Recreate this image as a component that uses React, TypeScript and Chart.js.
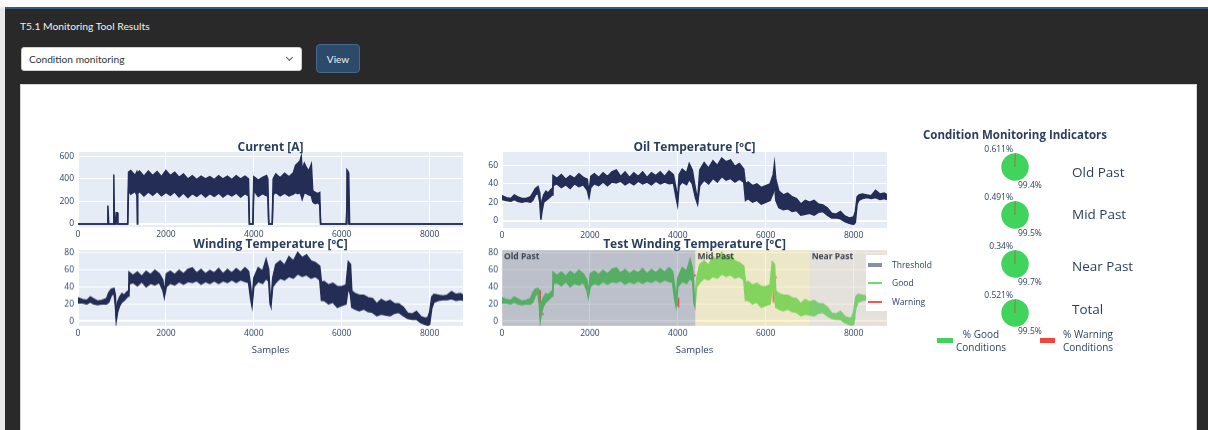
import React, { useEffect, useRef } from "react";
import { Chart, registerables } from "chart.js";
Chart.register(...registerables);

// ---------- data ----------
const sampleMax = 8760;
const xTickValues = [0, 2000, 4000, 6000, 8000];

const currentTicks = [0, 200, 400, 600];
const currentX = [0, 660, 680, 700, 800, 815, 830, 850, 870, 895, 910, 1130, 1150, 1200, 1300, 1340, 1350, 1360, 1400, 1500, 1600, 1700, 1800, 1900, 2000, 2100, 2200, 2300, 2400, 2500, 2600, 2700, 2800, 2900, 3000, 3100, 3200, 3300, 3400, 3500, 3600, 3700, 3800, 3880, 3900, 3980, 4000, 4100, 4200, 4290, 4320, 4340, 4420, 4440, 4500, 4600, 4700, 4800, 4900, 4950, 5000, 5050, 5080, 5100, 5150, 5200, 5250, 5310, 5340, 5360, 5400, 5450, 5500, 5520, 6100, 6120, 6140, 6160, 6180, 8760];
const currentHi = [0, 0, 165, 0, 0, 440, 0, 0, 100, 100, 0, 0, 460, 475, 430, 465, 450, 455, 470, 425, 470, 430, 465, 420, 475, 430, 460, 415, 445, 400, 430, 395, 425, 400, 420, 395, 430, 400, 425, 395, 430, 400, 425, 400, 0, 0, 420, 390, 415, 430, 400, 0, 0, 400, 445, 410, 450, 420, 455, 520, 540, 560, 600, 480, 540, 500, 470, 530, 300, 290, 280, 270, 280, 0, 0, 480, 470, 450, 0, 0];
const currentLo = [0, 0, 0, 0, 0, 0, 0, 0, 0, 0, 0, 0, 300, 265, 290, 255, 0, 270, 290, 250, 285, 255, 290, 250, 280, 255, 285, 240, 275, 235, 270, 245, 275, 240, 270, 245, 275, 240, 270, 250, 275, 240, 270, 250, 0, 0, 300, 245, 270, 250, 250, 0, 0, 260, 280, 250, 275, 250, 265, 280, 270, 280, 250, 220, 280, 270, 260, 250, 200, 190, 180, 190, 170, 0, 0, 0, 300, 0, 0, 0];

const oilTicks = [0, 20, 40, 60];
const oilX = [0, 100, 200, 280, 350, 450, 550, 650, 700, 760, 820, 860, 885, 910, 950, 1000, 1050, 1100, 1140, 1160, 1250, 1350, 1450, 1550, 1650, 1750, 1850, 1940, 1980, 2020, 2100, 2200, 2300, 2400, 2500, 2600, 2700, 2800, 2900, 3000, 3100, 3200, 3300, 3400, 3500, 3600, 3700, 3800, 3900, 3960, 3995, 4030, 4100, 4200, 4260, 4330, 4400, 4450, 4500, 4600, 4700, 4800, 4900, 5000, 5100, 5200, 5300, 5400, 5500, 5540, 5600, 5700, 5800, 5900, 6000, 6100, 6170, 6200, 6230, 6300, 6400, 6500, 6600, 6700, 6800, 6900, 7000, 7100, 7200, 7300, 7400, 7500, 7600, 7700, 7800, 7900, 8000, 8040, 8080, 8120, 8200, 8300, 8400, 8500, 8600, 8700, 8760];
const oilHi = [27, 25, 24, 28, 26, 24, 24, 26, 30, 35, 37, 30, 8, 22, 28, 32, 30, 33, 35, 49, 46, 50, 45, 49, 46, 51, 47, 45, 30, 48, 51, 47, 52, 48, 53, 55, 48, 53, 47, 52, 48, 53, 47, 52, 49, 53, 48, 54, 50, 35, 22, 50, 56, 52, 62, 55, 35, 22, 55, 63, 57, 65, 60, 68, 64, 66, 59, 62, 56, 40, 42, 38, 40, 36, 38, 40, 50, 62, 45, 32, 28, 30, 26, 24, 18, 22, 20, 22, 18, 17, 14, 8, 7, 10, 5, 3, 4, 10, 26, 28, 29, 28, 27, 33, 29, 30, 28];
const oilLo = [23, 22, 21, 23, 21, 20, 21, 20, 22, 28, 30, 20, 1, 10, 20, 22, 24, 26, 28, 38, 40, 36, 39, 35, 40, 37, 39, 33, 25, 36, 40, 38, 42, 38, 42, 41, 43, 39, 42, 39, 43, 40, 42, 39, 43, 40, 42, 40, 41, 25, 17, 38, 42, 39, 45, 40, 25, 18, 38, 44, 40, 46, 42, 48, 44, 46, 42, 45, 42, 22, 24, 20, 22, 18, 20, 22, 30, 40, 22, 14, 12, 13, 10, 11, 6, 7, 8, 6, 9, 10, 6, 3, 3, 2, -1, -3, -4, -2, 18, 22, 24, 25, 24, 25, 23, 24, 23];

const windTicks = [0, 20, 40, 60, 80];
const windX = [0, 100, 200, 280, 350, 450, 550, 650, 700, 760, 820, 850, 870, 900, 950, 1000, 1050, 1100, 1140, 1160, 1250, 1350, 1450, 1550, 1650, 1750, 1850, 1930, 1965, 2010, 2100, 2200, 2300, 2400, 2500, 2600, 2700, 2800, 2900, 3000, 3100, 3200, 3300, 3400, 3500, 3600, 3700, 3800, 3880, 3930, 3960, 4000, 4100, 4200, 4280, 4340, 4370, 4390, 4430, 4500, 4600, 4700, 4800, 4900, 5000, 5100, 5200, 5300, 5400, 5500, 5540, 5600, 5700, 5800, 5900, 6000, 6100, 6150, 6200, 6230, 6300, 6400, 6500, 6600, 6700, 6800, 6900, 7000, 7100, 7200, 7300, 7400, 7500, 7600, 7700, 7800, 7900, 7960, 8000, 8050, 8100, 8200, 8300, 8400, 8500, 8600, 8700, 8760];
const windHi = [27, 25, 24, 28, 26, 23, 24, 26, 33, 37, 38, 30, 3, 22, 28, 32, 30, 33, 35, 57, 53, 57, 52, 58, 54, 59, 55, 48, 31, 55, 58, 54, 59, 55, 60, 62, 56, 60, 55, 59, 56, 61, 55, 60, 56, 61, 57, 62, 58, 40, 22, 50, 62, 58, 72, 60, 30, 20, 50, 66, 70, 65, 75, 70, 80, 74, 77, 70, 68, 64, 45, 46, 42, 44, 40, 40, 42, 69, 66, 35, 32, 30, 30, 27, 26, 20, 25, 22, 24, 20, 20, 16, 9, 8, 11, 5, 3, 4, 10, 28, 31, 30, 29, 30, 34, 31, 32, 30];
const windLo = [21, 21, 20, 22, 20, 19, 20, 20, 22, 30, 32, 18, 0, 10, 18, 22, 24, 27, 29, 43, 45, 41, 46, 40, 44, 42, 45, 36, 28, 40, 44, 42, 46, 43, 46, 45, 47, 43, 46, 44, 47, 44, 47, 45, 48, 45, 48, 46, 45, 25, 17, 40, 46, 44, 50, 46, 20, 17, 40, 45, 50, 48, 52, 50, 55, 52, 54, 50, 52, 48, 24, 24, 20, 22, 16, 18, 20, 40, 30, 16, 14, 12, 14, 11, 10, 6, 8, 7, 6, 9, 10, 6, 3, 2, 2, -2, -4, -5, -4, 15, 22, 24, 25, 25, 26, 24, 25, 24];

// warning segments on the test winding series
const warnX0 = [700, 862, 912, 1385, 2585, 4005, 4385, 5370, 6172, 6220, 7835, 8025];
const warnX1 = [725, 868, 925, 1405, 2605, 4012, 4395, 5385, 6176, 6240, 7850, 8040];
const warnY0 = [25, 20, 8, 46, 61, 17, 52, 65, 22, 50, 4, 3];
const warnY1 = [28, 36, 9, 47, 60, 27, 54, 66, 53, 52, 3, 3];

const regionNames = ["Old Past", "Mid Past", "Near Past"];
const regionStart = [0, 4400, 7000];
const regionEnd = [4400, 7000, sampleMax];

const pieNames = ["Old Past", "Mid Past", "Near Past", "Total"];
const pieWarning = [0.611, 0.491, 0.34, 0.521];
const pieGood = [99.389, 99.509, 99.66, 99.479];

// ---------- styles ----------
const FONT = '"Open Sans", verdana, arial, sans-serif';
const TXT = "#2a3f5f";
const NAVY = "#232d55";
const GREEN_LINE = "#3fcf4f";
const RED = "#f5453a";
const PIE_GREEN = "#40d45c";
const PLOT_BG = "#E5ECF6";
const regionColors = ["rgba(120,122,135,0.38)", "rgba(249,222,123,0.36)", "rgba(226,202,172,0.36)"];
const AXW = 34, PADT = 14, PADR = 10, AXH = 18;
const tickFont = { family: FONT, size: 8.5 };

function band(xs: number[], hi: number[], lo: number[], color: string) {
  return [
    { data: xs.map((x, i) => ({ x, y: hi[i] })), borderColor: color, borderWidth: 1.5, pointRadius: 0, fill: false },
    { data: xs.map((x, i) => ({ x, y: lo[i] })), borderColor: color, borderWidth: 1.5, pointRadius: 0, fill: "-1", backgroundColor: color },
  ];
}

function warnDataset() {
  const data: any[] = [];
  warnX0.forEach((x0, i) => {
    data.push({ x: x0, y: warnY0[i] }, { x: warnX1[i], y: warnY1[i] }, { x: warnX1[i] + 1, y: null });
  });
  return { data, borderColor: RED, borderWidth: 2, pointRadius: 0, fill: false, spanGaps: false };
}

type Plot = { left: number; top: number; width: number; height: number };

function LineChart(props: { plot: Plot; yMin: number; yMax: number; yTicks: number[]; datasets: () => any[]; overlay?: any }) {
  const ref = useRef<HTMLCanvasElement>(null);
  const { plot } = props;
  const cw = plot.width + AXW + PADR;
  const ch = plot.height + PADT + AXH;
  useEffect(() => {
    const bg = {
      id: "plotbg",
      beforeDraw(c: any) {
        const { ctx, chartArea: a } = c;
        ctx.save();
        ctx.fillStyle = PLOT_BG;
        ctx.fillRect(a.left, a.top, a.right - a.left, a.bottom - a.top);
        ctx.restore();
      },
    };
    const plugins: any[] = [bg];
    if (props.overlay) plugins.push(props.overlay);
    const chart = new Chart(ref.current as HTMLCanvasElement, {
      type: "line",
      data: { datasets: props.datasets() },
      options: {
        animation: false,
        responsive: false,
        devicePixelRatio: 1,
        layout: { padding: { top: PADT, right: PADR, left: 0, bottom: 0 } },
        plugins: { legend: { display: false }, tooltip: { enabled: false } },
        elements: { line: { tension: 0 }, point: { radius: 0 } },
        scales: {
          x: {
            type: "linear",
            min: 0,
            max: sampleMax,
            afterBuildTicks: (s: any) => { s.ticks = xTickValues.map((v) => ({ value: v })); },
            afterFit: (s: any) => { s.height = AXH; },
            ticks: { font: tickFont, color: TXT, padding: 2, maxRotation: 0, autoSkip: false, callback: (v: any) => String(v) },
            grid: { color: "#ffffff", drawTicks: false, lineWidth: 1 },
            border: { display: false },
          },
          y: {
            type: "linear",
            min: props.yMin,
            max: props.yMax,
            afterBuildTicks: (s: any) => { s.ticks = props.yTicks.map((v) => ({ value: v })); },
            afterFit: (s: any) => { s.width = AXW; },
            ticks: { font: tickFont, color: TXT, padding: 4, autoSkip: false, callback: (v: any) => String(v) },
            grid: { color: "#ffffff", drawTicks: false, lineWidth: (c: any) => (c.tick && c.tick.value === 0 ? 2 : 1) },
            border: { display: false },
          },
        },
      } as any,
      plugins,
    });
    return () => chart.destroy();
  }, []);
  return (
    <canvas
      ref={ref}
      width={cw}
      height={ch}
      style={{ position: "absolute", left: plot.left - AXW, top: plot.top - PADT, width: cw, height: ch }}
    />
  );
}

const regionOverlay = {
  id: "regions",
  afterDatasetsDraw(c: any) {
    const { ctx, chartArea: a, scales } = c;
    const xs = scales.x;
    ctx.save();
    ctx.beginPath();
    ctx.rect(a.left, a.top, a.right - a.left, a.bottom - a.top);
    ctx.clip();
    regionNames.forEach((name, i) => {
      const x0 = xs.getPixelForValue(regionStart[i]);
      const x1 = xs.getPixelForValue(regionEnd[i]);
      ctx.fillStyle = regionColors[i];
      ctx.fillRect(x0, a.top, x1 - x0, a.bottom - a.top);
    });
    ctx.fillStyle = "#3b4250";
    ctx.font = `bold 8.5px ${FONT}`;
    ctx.textBaseline = "middle";
    ctx.textAlign = "left";
    regionNames.forEach((name, i) => {
      const x0 = xs.getPixelForValue(regionStart[i]);
      ctx.fillText(name, x0 + 2, a.top + 7);
    });
    ctx.restore();
  },
};

function PieChart(props: { cx: number; cy: number; index: number }) {
  const ref = useRef<HTMLCanvasElement>(null);
  const size = 30;
  useEffect(() => {
    const w = pieWarning[props.index];
    const chart = new Chart(ref.current as HTMLCanvasElement, {
      type: "pie",
      data: {
        labels: ["% Good Conditions", "% Warning Conditions"],
        datasets: [
          {
            data: [pieGood[props.index], w],
            backgroundColor: [PIE_GREEN, RED],
            borderColor: [PIE_GREEN, "#b8583e"],
            borderWidth: [0, 0.5],
          },
        ],
      },
      options: {
        animation: false,
        responsive: false,
        devicePixelRatio: 1,
        rotation: (w / 100) * 360,
        layout: { padding: 1 },
        plugins: { legend: { display: false }, tooltip: { enabled: false } },
      } as any,
    });
    return () => chart.destroy();
  }, []);
  return (
    <canvas
      ref={ref}
      width={size}
      height={size}
      style={{ position: "absolute", left: props.cx - size / 2, top: props.cy - size / 2, width: size, height: size }}
    />
  );
}

function Txt(props: { x: number; y: number; size: number; text: string; bold?: boolean; align?: "left" | "center" | "right"; color?: string; family?: string }) {
  const h = Math.round(props.size * 1.4);
  const align = props.align || "center";
  const w = 400;
  let left = props.x - w / 2;
  if (align === "left") left = props.x;
  if (align === "right") left = props.x - w;
  return (
    <div
      style={{
        position: "absolute",
        left,
        top: props.y - h / 2,
        width: w,
        height: h,
        lineHeight: `${h}px`,
        fontSize: props.size,
        fontWeight: props.bold ? 700 : 400,
        color: props.color || TXT,
        fontFamily: props.family || FONT,
        textAlign: align,
        whiteSpace: "nowrap",
      }}
    >
      {props.text}
    </div>
  );
}

const plotCurrent: Plot = { left: 78, top: 152, width: 385, height: 75 };
const plotOil: Plot = { left: 502, top: 152, width: 385, height: 76 };
const plotWind: Plot = { left: 78, top: 250, width: 385, height: 75.5 };
const plotTest: Plot = { left: 502, top: 250, width: 385, height: 75.5 };
const pieCY = [167, 215, 264, 313];
const pieNameY = [172, 214, 266, 309];

export default function App() {
  const LATO = "Lato, sans-serif";
  return (
    <div style={{ position: "absolute", left: 0, top: 0, width: 1208, height: 430, overflow: "hidden", background: "#292929", fontFamily: LATO }}>
      <div style={{ position: "absolute", left: 0, top: 0, width: 1208, height: 7, background: "#fbfbfb" }} />
      <div style={{ position: "absolute", left: 5, top: 7, width: 1203, height: 2, background: "#35597f" }} />
      <div style={{ position: "absolute", left: 0, top: 7, width: 5, height: 423, background: "#e9e9e9" }} />

      <Txt x={20} y={26} size={10.3} text="T5.1 Monitoring Tool Results" align="left" color="#f0f0f0" family={LATO} />

      <div style={{ position: "absolute", left: 21, top: 47, width: 281, height: 24, background: "#ffffff", borderRadius: 3, boxSizing: "border-box", border: "1px solid #cfcfcf" }} />
      <Txt x={29} y={59} size={10.2} text="Condition monitoring" align="left" color="#333333" family={LATO} />
      <div style={{ position: "absolute", left: 287, top: 55, width: 4, height: 4, borderRight: "1.3px solid #555", borderBottom: "1.3px solid #555", transform: "rotate(45deg)" }} />

      <div style={{ position: "absolute", left: 316, top: 44, width: 44, height: 29, background: "#2d4a6a", borderRadius: 4, boxSizing: "border-box", border: "1px solid #46698e" }} />
      <Txt x={338} y={58.5} size={10} text="View" color="#f2f2f2" family={LATO} />

      <div style={{ position: "absolute", left: 20, top: 84, width: 1177, height: 360, background: "#ffffff", boxSizing: "border-box", border: "1px solid #d6d6d6" }} />

      <LineChart plot={plotCurrent} yMin={-27} yMax={640} yTicks={currentTicks} datasets={() => band(currentX, currentHi, currentLo, NAVY)} />
      <LineChart plot={plotOil} yMin={-8} yMax={74.6} yTicks={oilTicks} datasets={() => band(oilX, oilHi, oilLo, NAVY)} />
      <LineChart plot={plotWind} yMin={-5.8} yMax={82.7} yTicks={windTicks} datasets={() => band(windX, windHi, windLo, NAVY)} />
      <LineChart plot={plotTest} yMin={-5.8} yMax={82.7} yTicks={windTicks} datasets={() => [...band(windX, windHi, windLo, GREEN_LINE), warnDataset()]} overlay={regionOverlay} />

      <Txt x={270.5} y={146} size={12} bold text="Current [A]" />
      <Txt x={694.5} y={146} size={12} bold text="Oil Temperature [ºC]" />
      <Txt x={270.5} y={243} size={12} bold text="Winding Temperature [ºC]" />
      <Txt x={694.5} y={243} size={12} bold text="Test Winding Temperature [ºC]" />
      <Txt x={270.5} y={349} size={9.5} text="Samples" />
      <Txt x={694.5} y={349} size={9.5} text="Samples" />

      {/* line legend */}
      <div style={{ position: "absolute", left: 866, top: 255, width: 21, height: 56, background: "#ffffff" }} />
      <div style={{ position: "absolute", left: 868, top: 263, width: 14, height: 4, background: "#8a8ea3" }} />
      <div style={{ position: "absolute", left: 868, top: 282, width: 14, height: 2, background: "#66e066" }} />
      <div style={{ position: "absolute", left: 868, top: 300.5, width: 14, height: 2, background: "#ff5050" }} />
      <Txt x={892} y={265} size={8.5} text="Threshold" align="left" />
      <Txt x={892} y={283} size={8.5} text="Good" align="left" />
      <Txt x={892} y={301.5} size={8.5} text="Warning" align="left" />

      {/* pies */}
      <Txt x={1015} y={135} size={11.5} bold text="Condition Monitoring Indicators" />
      {pieNames.map((name, i) => (
        <React.Fragment key={name}>
          <PieChart cx={1015} cy={pieCY[i]} index={i} />
          <Txt x={1013} y={pieCY[i] - 18.5} size={8.5} text={`${pieWarning[i]}%`} align="right" />
          <Txt x={1018} y={pieCY[i] + 17.5} size={8.5} text={`${pieGood[i].toFixed(1)}%`} align="left" />
          <Txt x={1072} y={pieNameY[i]} size={13.5} text={name} align="left" />
        </React.Fragment>
      ))}
      <div style={{ position: "absolute", left: 937, top: 337.5, width: 16, height: 5, background: PIE_GREEN }} />
      <Txt x={981} y={334} size={10} text="% Good" />
      <Txt x={981} y={347} size={10} text="Conditions" />
      <div style={{ position: "absolute", left: 1040, top: 337.5, width: 15, height: 5, background: RED }} />
      <Txt x={1088} y={334} size={10} text="% Warning" />
      <Txt x={1088} y={347} size={10} text="Conditions" />
    </div>
  );
}
